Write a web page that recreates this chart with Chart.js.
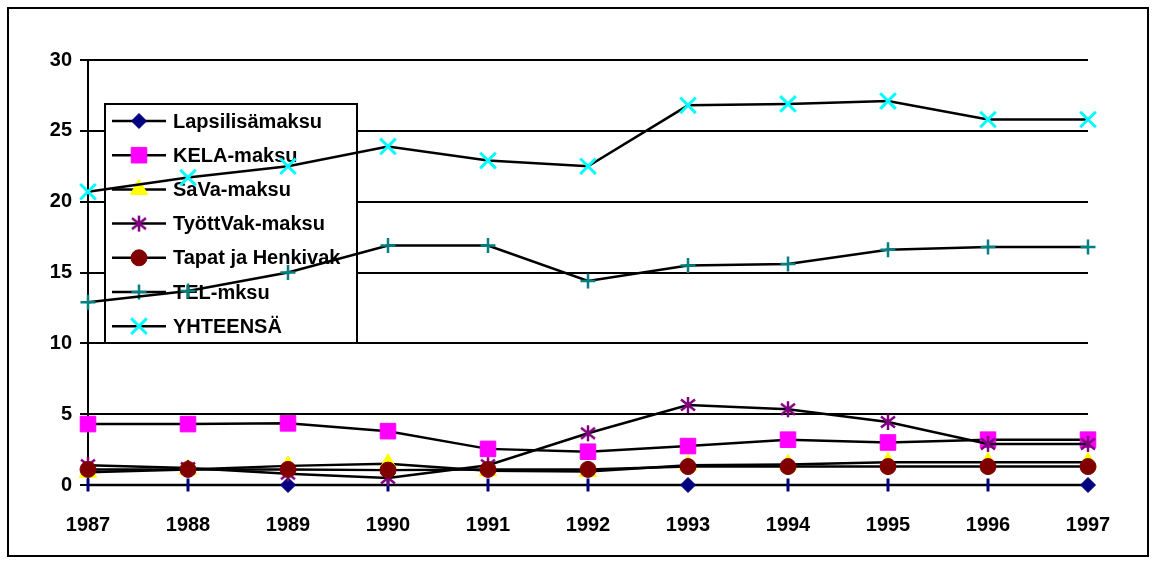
<!DOCTYPE html>
<html>
<head>
<meta charset="utf-8">
<script src="https://cdn.jsdelivr.net/npm/chart.js@4/dist/chart.umd.min.js"></script>
<style>
  body { margin: 0; background: #fff; }
  canvas { display: block; }
</style>
</head>
<body>
<canvas id="maksut" width="1157" height="564"></canvas>
<script>
// Vuodet ja maksut (% palkoista), luettu kuvasta
const vuodet = ['1987', '1988', '1989', '1990', '1991', '1992', '1993', '1994', '1995', '1996', '1997'];
const lapsilisamaksu = [0, 0, 0, 0, 0, 0, 0, 0, 0, 0, 0];
const kelaMaksu = [4.3, 4.3, 4.35, 3.8, 2.55, 2.35, 2.75, 3.2, 3.0, 3.2, 3.2];
const savaMaksu = [0.9, 1.1, 1.35, 1.5, 1.0, 0.95, 1.4, 1.45, 1.6, 1.6, 1.6];
const tyottVakMaksu = [1.4, 1.2, 0.8, 0.5, 1.4, 3.65, 5.65, 5.35, 4.45, 2.9, 2.9];
const tapatHenkivak = [1.1, 1.1, 1.1, 1.05, 1.1, 1.1, 1.3, 1.3, 1.3, 1.3, 1.3];
const telMaksu = [12.9, 13.7, 15.0, 16.9, 16.9, 14.4, 15.5, 15.6, 16.6, 16.8, 16.8];
const yhteensa = [20.7, 21.7, 22.5, 23.9, 22.9, 22.5, 26.8, 26.9, 27.1, 25.8, 25.8];
const yTicks = [0, 5, 10, 15, 20, 25, 30];

const FONT = 'bold 20px "Liberation Sans", Arial, sans-serif';

// tähti-merkki (Excelin * -tyyli: pysty + X)
function teeTahti(color) {
  const c = document.createElement('canvas');
  c.width = 18; c.height = 18;
  const g = c.getContext('2d');
  g.strokeStyle = color;
  g.lineWidth = 2.5;
  g.beginPath();
  g.moveTo(9, 1); g.lineTo(9, 17);
  g.moveTo(2, 3.5); g.lineTo(16, 14.5);
  g.moveTo(16, 3.5); g.lineTo(2, 14.5);
  g.stroke();
  return c;
}
const tahti = teeTahti('#800080');

// lapsilisämaksun merkit: osa näkyy vinoneliönä, muut pystyviivana
const lapsiStyles = vuodet.map(v => (v === '1989' || v === '1993' || v === '1997') ? 'rectRot' : 'line');
const lapsiRot = lapsiStyles.map(s => s === 'line' ? 90 : 0);
const lapsiRad = lapsiStyles.map(s => s === 'line' ? 6.5 : 7.5);
const lapsiBw = lapsiStyles.map(s => s === 'line' ? 3 : 1);

function sarja(label, data, style, color, radius, bw, order) {
  return {
    label: label,
    data: data,
    borderColor: '#000',
    borderWidth: 2.5,
    pointStyle: style,
    pointBackgroundColor: color,
    pointBorderColor: color,
    pointRadius: radius,
    pointBorderWidth: bw,
    pointHoverRadius: radius,
    tension: 0,
    clip: false,
    order: order
  };
}

const datasets = [
  Object.assign(sarja('Lapsilisämaksu', lapsilisamaksu, lapsiStyles, '#000080', lapsiRad, lapsiBw, 7),
    { pointRotation: lapsiRot, legendStyle: 'rectRot', legendRadius: 7.5 }),
  sarja('KELA-maksu', kelaMaksu, 'rect', '#FF00FF', 11, 1, 6),
  sarja('SaVa-maksu', savaMaksu, 'triangle', '#FFFF00', 10, 1, 5),
  sarja('TyöttVak-maksu', tyottVakMaksu, tahti, '#800080', 9, 1, 4),
  sarja('Tapat ja Henkivak', tapatHenkivak, 'circle', '#800000', 8, 1, 3),
  sarja('TEL-mksu', telMaksu, 'cross', '#008080', 7.5, 2.5, 2),
  sarja('YHTEENSÄ', yhteensa, 'crossRot', '#00FFFF', 11, 3, 1)
];

// selite piirretään ruudukon päälle mutta viivojen alle
const seliteLaatikko = {
  id: 'seliteLaatikko',
  beforeDatasetsDraw(chart) {
    const ctx = chart.ctx;
    const L = 105, T = 104, R = 357, B = 343;
    ctx.save();
    ctx.fillStyle = '#fff';
    ctx.fillRect(L, T, R - L, B - T);
    ctx.strokeStyle = '#000';
    ctx.lineWidth = 2;
    ctx.strokeRect(L, T, R - L, B - T);
    ctx.font = FONT;
    ctx.textBaseline = 'middle';
    ctx.textAlign = 'left';
    chart.data.datasets.forEach((ds, i) => {
      const y = 121 + i * 34.2;
      ctx.strokeStyle = '#000';
      ctx.lineWidth = 2.5;
      ctx.beginPath();
      ctx.moveTo(112, y);
      ctx.lineTo(166, y);
      ctx.stroke();
      const style = ds.legendStyle || ds.pointStyle;
      const radius = ds.legendRadius || ds.pointRadius;
      ctx.fillStyle = ds.pointBackgroundColor;
      ctx.strokeStyle = ds.pointBorderColor;
      ctx.lineWidth = ds.legendStyle ? 1 : ds.pointBorderWidth;
      Chart.helpers.drawPoint(ctx, { pointStyle: style, radius: radius, rotation: 0, borderWidth: ctx.lineWidth }, 139, y);
      ctx.fillStyle = '#000';
      ctx.fillText(ds.label, 173, y + 1);
    });
    ctx.restore();
  },
  afterDraw(chart) {
    const ctx = chart.ctx;
    ctx.save();
    ctx.strokeStyle = '#000';
    ctx.lineWidth = 2;
    ctx.strokeRect(8, 8, 1140, 548);
    ctx.restore();
  }
};

new Chart(document.getElementById('maksut').getContext('2d'), {
  type: 'line',
  data: { labels: vuodet, datasets: datasets },
  plugins: [seliteLaatikko],
  options: {
    responsive: false,
    animation: false,
    events: [],
    layout: { padding: { left: 0, right: 69, top: 60, bottom: 0 } },
    plugins: {
      legend: { display: false },
      tooltip: { enabled: false }
    },
    scales: {
      x: {
        offset: false,
        grid: { display: false, offset: false },
        border: { display: false },
        ticks: {
          color: '#000',
          font: { family: '"Liberation Sans", Arial, sans-serif', size: 20, weight: 'bold' },
          padding: 20,
          maxRotation: 0,
          autoSkip: false
        },
        afterFit(scale) { scale.height = 79; }
      },
      y: {
        min: 0,
        max: 30,
        afterBuildTicks(scale) { scale.ticks = yTicks.map(v => ({ value: v })); },
        grid: {
          color: '#000',
          lineWidth: 2,
          drawTicks: true,
          tickLength: 8,
          tickColor: '#000'
        },
        border: { display: true, color: '#000', width: 2 },
        ticks: {
          color: '#000',
          font: { family: '"Liberation Sans", Arial, sans-serif', size: 20, weight: 'bold' },
          padding: 8
        },
        afterFit(scale) { scale.width = 88; }
      }
    }
  }
});
</script>
</body>
</html>
